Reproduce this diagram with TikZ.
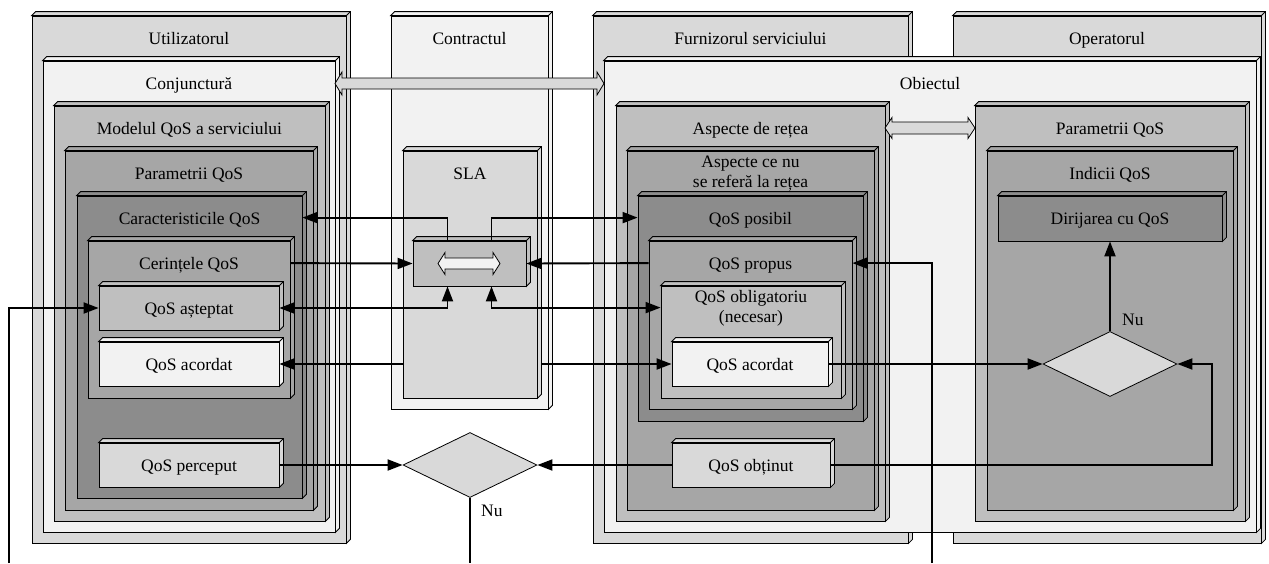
\documentclass[tikz,border=0pt]{standalone}
\usepackage{fontspec}
\setmainfont{Liberation Serif}
\usetikzlibrary{arrows.meta,shapes.geometric,calc}
\definecolor{g1}{HTML}{F2F2F2}
\definecolor{g2}{HTML}{D9D9D9}
\definecolor{g3}{HTML}{BFBFBF}
\definecolor{g4}{HTML}{A6A6A6}
\definecolor{g5}{HTML}{8C8C8C}
\tikzset{
  every node/.style={font=\fontsize{17.5}{20}\selectfont},
  bxs/.style={draw=black, line width=0.8pt, inner sep=0pt, rectangle, text height=12pt, text depth=0pt},
  face/.style={draw=black, line width=0.8pt, line join=miter},
  ttl/.style={inner sep=0pt, text height=12pt, text depth=0pt},
  mttl/.style={inner sep=0pt, align=center},
  conn/.style={line width=1.9pt, -{Triangle[length=15pt,width=11pt]}},
  conn2/.style={line width=1.9pt, {Triangle[length=15pt,width=11pt]}-{Triangle[length=15pt,width=11pt]}},
  plainline/.style={line width=1.9pt},
  dec/.style={diamond, draw=black, line width=0.8pt, fill=g2, minimum width=134pt, minimum height=65pt, inner sep=0pt},
  fat/.style={draw=black, line width=0.8pt, line join=miter},
}
\newcommand{\bx}[7]{%
  \node[bxs, fill=#6, minimum width={#4-#2}, minimum height={#5-#3}] (#1) at ({(#2+#4)/2},{(#3+#5)/2}) {#7};
  \filldraw[face, fill=#6] (#1.north west) -- ++(4,-4) -- ([shift={(4pt,4pt)}]#1.north east) -- ([shift={(4pt,4pt)}]#1.south east) -- (#1.south east) -- (#1.north east) -- cycle;
  \draw[face] (#1.north east) -- ++(4,-4);
}
\newcommand{\boxtitle}[2]{\node[ttl] (#1-t) at ([yshift=-22.5pt]#1.north) {#2};}
\newcommand{\fatarrow}[6]{\filldraw[fat, fill=#6] (#1,#3) -- ({#1+7},{#3-#4}) -- ({#1+7},{#3-#5}) -- ({#2-7},{#3-#5}) -- ({#2-7},{#3-#4}) -- (#2,#3) -- ({#2-7},{#3+#4}) -- ({#2-7},{#3+#5}) -- ({#1+7},{#3+#5}) -- ({#1+7},{#3+#4}) -- cycle;}
\begin{document}
\begin{tikzpicture}[x=1pt,y=-1pt]
\useasboundingbox (0,0) rectangle (1269,563);
\fill[white] (0,0) rectangle (1269,563);
% Utilizatorul
\bx{u}{32}{16}{346}{543}{g2}{}\boxtitle{u}{Utilizatorul}
\bx{cj}{43}{61}{335}{532}{g1}{}\boxtitle{cj}{Conjunctură}
\bx{mq}{54}{106}{325}{521}{g3}{}\boxtitle{mq}{Modelul QoS a serviciului}
\bx{pq}{65}{151}{313}{510}{g4}{}\boxtitle{pq}{Parametrii QoS}
\bx{cq}{77}{196}{302}{498}{g5}{}\boxtitle{cq}{Caracteristicile QoS}
\bx{rq}{88}{241}{290}{398}{g4}{}\boxtitle{rq}{Cerințele QoS}
\bx{qa}{99}{286}{279}{330}{g3}{QoS așteptat}
\bx{qcl}{99}{342}{279}{386}{g1}{QoS acordat}
\bx{qp}{99}{443}{279}{487}{g2}{QoS perceput}
% Furnizorul / Operatorul / Obiectul
\bx{fs}{593}{16}{908}{543}{g2}{}\boxtitle{fs}{Furnizorul serviciului}
\bx{op}{953}{16}{1261}{543}{g2}{}\boxtitle{op}{Operatorul}
\bx{ob}{604}{61}{1256}{532}{g1}{}\boxtitle{ob}{Obiectul}
\bx{ar}{616}{106}{885}{521}{g3}{}\boxtitle{ar}{Aspecte de rețea}
\bx{an}{627}{151}{874}{510}{g4}{}
\node[mttl] (an-t) at ([yshift=-23pt]an.north) {Aspecte ce nu\\se referă la rețea};
\bx{ps}{638}{196}{863}{421}{g5}{}\boxtitle{ps}{QoS posibil}
\bx{pp}{649}{241}{852}{409}{g4}{}\boxtitle{pp}{QoS propus}
\bx{ol}{661}{286}{841}{398}{g3}{}
\node[mttl] (ol-t) at ([yshift=-23pt]ol.north) {QoS obligatoriu\\(necesar)};
\bx{qcr}{672}{342}{828}{386}{g1}{QoS acordat}
\bx{qo}{672}{443}{830}{487}{g2}{QoS obținut}
\bx{pr}{975}{106}{1245}{521}{g3}{}\boxtitle{pr}{Parametrii QoS}
\bx{iq}{987}{151}{1233}{510}{g4}{}\boxtitle{iq}{Indicii QoS}
\bx{dq}{998}{196}{1222}{241}{g5}{Dirijarea cu QoS}
% Contractul
\bx{ct}{391}{16}{548}{409}{g1}{}\boxtitle{ct}{Contractul}
\draw[conn2] (qcl.east) -- (qcr.west);
\bx{sla}{403}{151}{537}{398}{g2}{}\boxtitle{sla}{SLA}
\bx{si}{413}{241}{526}{286}{g3}{}
\fatarrow{438}{500}{263.5}{11}{5.5}{g1}
% decisions
\node[dec] (dl) at (470,465) {};
\node[dec] (dr) at (1110,364) {};
\node[ttl, anchor=west] (nu1) at ([xshift=11pt,yshift=-13pt]dl.south) {Nu};
\node[ttl, anchor=west] (nu2) at ([xshift=12pt,yshift=12pt]dr.north) {Nu};
% connectors
\coordinate (b1) at (9,563);
\coordinate (b2) at (470,563);
\coordinate (b3) at (932,563);
\draw[conn] (b1) |- (qa.west);
\draw[conn] ([xshift=-22pt]si.north) |- ([yshift=-22pt]cq.north east);
\draw[conn] ([xshift=22pt]si.north) |- ([yshift=-22pt]ps.north west);
\draw[conn] ([yshift=-22.5pt]rq.north east) -- (si.west);
\draw[conn] ([yshift=-22.5pt]pp.north west) -- (si.east);
\draw[conn2] ([xshift=-22pt]si.south) |- (qa.east);
\draw[conn2] ([xshift=22pt]si.south) |- ([yshift=-22pt]ol.north west);
\draw[conn] (qp.east) -- (dl.west);
\draw[conn] (qo.west) -- (dl.east);
\draw[plainline] (dl.south) -- (b2);
\draw[conn] (b3) |- ([yshift=-22.5pt]pp.north east);
\draw[conn] (qcr.east) -- (dr.west);
\draw[conn] (qo.east) -| ([xshift=35pt]dr.east) -- (dr.east);
\draw[conn] (dr.north) -- (dq.south);
% fat arrows
\fatarrow{335}{604}{83.5}{11.5}{5.5}{g2}
\fatarrow{885}{975}{128}{10.5}{6}{g2}
\end{tikzpicture}
\end{document}
